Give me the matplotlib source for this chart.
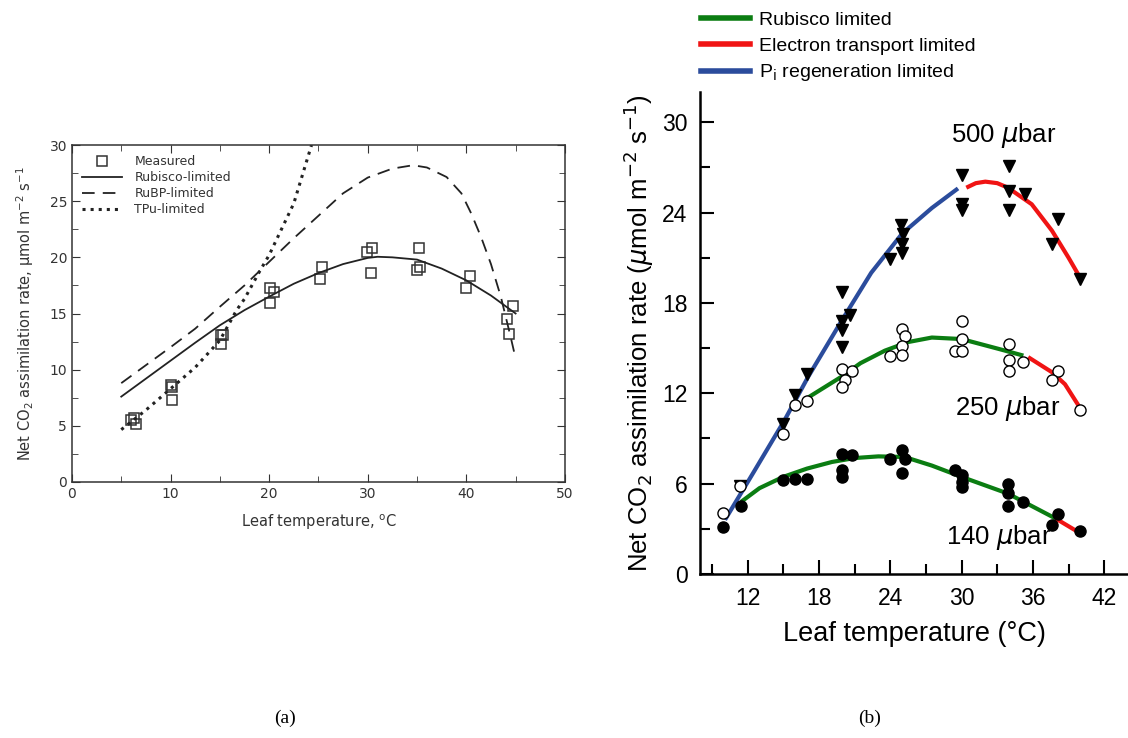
import matplotlib
matplotlib.use("Agg")
import matplotlib.pyplot as plt
from matplotlib.lines import Line2D
from matplotlib.ticker import MultipleLocator

# ---- panel (a) data ----
meas_t = [5.95, 6.26, 6.46, 10.0, 10.1, 10.15, 15.1, 15.3, 15.15, 20.06, 20.47, 20.1,
          25.4, 25.2, 29.9, 30.45, 30.3, 35.2, 35.0, 35.3, 40.0, 40.4, 44.1, 44.35, 44.75]
meas_a = [5.55, 5.73, 5.13, 8.66, 8.46, 7.27, 13.06, 13.1, 12.3, 17.3, 16.9, 15.9,
          19.1, 18.1, 20.5, 20.8, 18.6, 20.8, 18.9, 19.1, 17.3, 18.3, 14.5, 13.15, 15.7]

rub_t = [5, 7.5, 10, 12.5, 15, 17.5, 20, 22.5, 25, 27.5, 30, 31, 32.5, 35, 37.5, 40, 42.5, 45]
rub_a = [7.6, 9.2, 10.8, 12.4, 13.95, 15.3, 16.5, 17.65, 18.6, 19.4, 19.95, 20.05, 20.0,
         19.8, 19.0, 17.95, 16.6, 15.0]

rubp_t = [5, 7.5, 10, 12.5, 15, 17.5, 20, 22.5, 25, 27.5, 30, 32.5, 34.6, 36, 38, 39.5,
          40.5, 41.5, 42.5, 43.5, 44.5, 45]
rubp_a = [8.8, 10.4, 12.0, 13.65, 15.6, 17.5, 19.6, 21.7, 23.7, 25.7, 27.1, 27.9, 28.2,
          28.0, 27.15, 25.7, 23.9, 21.8, 19.4, 16.5, 12.9, 11.0]

tpu_t = [5, 7.5, 10, 12.5, 15, 16.7, 17.5, 19, 20, 22.5, 24.3]
tpu_a = [4.66, 6.4, 8.3, 10.2, 12.6, 15.3, 16.3, 18.7, 20.2, 24.8, 30.0]

# ---- panel (b) data ----
t500 = [11.36, 15.0, 16.0, 17.0, 19.9, 20.6, 19.9, 19.9, 19.9, 24.0, 24.9, 25.1, 25.0, 25.0,
        30.0, 30.0, 30.0, 34.0, 34.0, 34.0, 35.3, 38.1, 37.6, 40.0]
a500 = [5.83, 9.98, 11.9, 13.25, 18.7, 17.2, 16.8, 16.2, 15.1, 20.9, 23.2, 22.6, 21.9, 21.3,
        26.5, 24.55, 24.2, 27.1, 25.4, 24.2, 25.2, 23.55, 21.9, 19.6]

t250 = [9.96, 11.36, 15.0, 16.0, 17.0, 19.97, 20.8, 20.2, 19.97, 24.0, 24.95, 25.2, 24.95,
        24.95, 30.0, 30.0, 29.45, 30.0, 34.0, 34.0, 34.0, 35.2, 38.1, 37.6, 40.0]
a250 = [4.06, 5.83, 9.3, 11.2, 11.5, 13.6, 13.5, 12.9, 12.4, 14.5, 16.27, 15.83, 15.17,
        14.57, 16.77, 15.6, 14.83, 14.83, 15.28, 14.2, 13.5, 14.06, 13.5, 12.85, 10.86]

t140 = [9.96, 11.45, 15.0, 16.0, 17.0, 19.97, 20.75, 19.97, 19.97, 24.0, 25.0, 25.2, 25.0,
        29.45, 30.0, 30.0, 30.0, 33.9, 33.9, 33.9, 35.2, 38.1, 37.6, 40.0]
a140 = [3.13, 4.5, 6.23, 6.34, 6.34, 7.99, 7.88, 6.9, 6.45, 7.66, 8.21, 7.66, 6.71,
        6.89, 6.6, 6.11, 5.8, 6.0, 5.35, 4.5, 4.79, 3.97, 3.24, 2.87]

blue500_t = [10.1, 12.5, 15.1, 17.1, 19.9, 22.4, 25.0, 27.5, 29.7]
blue500_a = [3.6, 6.75, 10.2, 13.1, 16.8, 20.0, 22.6, 24.3, 25.6]
red500_t = [30.4, 31.2, 32.0, 33.0, 33.9, 35.9, 37.6, 39.0, 40.1]
red500_a = [25.65, 25.95, 26.05, 25.95, 25.65, 24.55, 22.8, 21.0, 19.5]

green250_t = [17.05, 19.9, 21.5, 23.55, 25.5, 27.5, 30.0, 33.1, 35.2]
green250_a = [11.7, 13.1, 14.0, 14.83, 15.4, 15.7, 15.6, 14.95, 14.5]
red250_t = [35.6, 37.6, 38.7, 40.1]
red250_a = [14.4, 13.4, 12.6, 10.86]

green140_t = [11.45, 13.0, 15.0, 17.0, 19.1, 21.0, 23.0, 25.2, 27.5, 30.0, 33.9, 37.9]
green140_a = [4.79, 5.7, 6.45, 7.0, 7.44, 7.7, 7.81, 7.77, 7.2, 6.45, 5.34, 3.69]
red140_t = [37.9, 40.1]
red140_a = [3.69, 2.65]

GREEN = '#0b7d12'
RED = '#f01414'
BLUE = '#2b4c9c'

fig = plt.figure(figsize=(11.28, 7.38), dpi=100)

# ================= panel (a) =================
ink = '#333333'
axa = fig.add_axes([0.0638, 0.3469, 0.437, 0.4566])
axa.plot(meas_t, meas_a, 's', ms=7, mfc='none', mec=ink, mew=1.1, label='Measured')
axa.plot(rub_t, rub_a, '-', color='#222222', lw=1.3, label='Rubisco-limited')
axa.plot(rubp_t, rubp_a, '--', color='#222222', lw=1.3, dashes=(7, 4.5), label='RuBP-limited')
axa.plot(tpu_t, tpu_a, ':', color='#222222', lw=2.2, label='TPu-limited')
axa.set_xlim(0, 50)
axa.set_ylim(0, 30)
axa.xaxis.set_major_locator(MultipleLocator(10))
axa.xaxis.set_minor_locator(MultipleLocator(5))
axa.yaxis.set_major_locator(MultipleLocator(5))
axa.yaxis.set_minor_locator(MultipleLocator(2.5))
axa.tick_params(which='both', direction='in', top=True, right=True, colors=ink,
                labelsize=10)
axa.tick_params(which='major', length=6)
axa.tick_params(which='minor', length=4)
for s in axa.spines.values():
    s.set_color(ink)
    s.set_linewidth(1.1)
axa.set_xlabel('Leaf temperature, $^{\\rm o}$C', fontsize=10.5, color=ink, labelpad=8)
axa.set_ylabel('Net CO$_2$ assimilation rate, \u00b5mol m$^{-2}$ s$^{-1}$', fontsize=10.5,
               color=ink, labelpad=10)
leg = axa.legend(loc='upper left', frameon=False, fontsize=9, handlelength=3.2,
                 labelspacing=0.25, borderaxespad=0.4, handletextpad=1.0)
for t in leg.get_texts():
    t.set_color(ink)

# ================= panel (b) =================
axb = fig.add_axes([0.6206, 0.2222, 0.3794, 0.6531])
sans = ['Liberation Sans', 'DejaVu Sans']
for xs, ys, c in [(blue500_t, blue500_a, BLUE), (red500_t, red500_a, RED),
                  (green250_t, green250_a, GREEN), (red250_t, red250_a, RED),
                  (green140_t, green140_a, GREEN), (red140_t, red140_a, RED)]:
    axb.plot(xs, ys, '-', color=c, lw=3, solid_capstyle='butt', solid_joinstyle='round',
             zorder=2)
axb.plot(t500, a500, 'v', ms=8.5, color='black', zorder=3)
axb.plot(t250, a250, 'o', ms=8, mfc='white', mec='black', mew=1.0, zorder=3)
axb.plot(t140, a140, 'o', ms=8, color='black', zorder=3)

axb.set_xlim(8, 44)
axb.set_ylim(0, 32)
axb.xaxis.set_minor_locator(MultipleLocator(3))
axb.set_xticks([12, 18, 24, 30, 36, 42])
axb.yaxis.set_major_locator(MultipleLocator(6))
axb.yaxis.set_minor_locator(MultipleLocator(3))
axb.spines['top'].set_visible(False)
axb.spines['right'].set_visible(False)
for s in ('left', 'bottom'):
    axb.spines[s].set_linewidth(1.8)
axb.tick_params(which='both', direction='in', width=1.5, labelsize=16.5, pad=9)
axb.tick_params(which='major', length=10)
axb.tick_params(which='minor', length=7)
for lab in axb.get_xticklabels() + axb.get_yticklabels():
    lab.set_family(sans)
axb.set_xlabel('Leaf temperature (\u00b0C)', fontsize=19.5, family=sans, labelpad=8)
axb.set_ylabel('Net CO$_2$ assimilation rate ($\\mu$mol m$^{-2}$ s$^{-1}$)', fontsize=18.5,
               family=sans, labelpad=4)

axb.text(33.5, 29.1, '500 $\\mu$bar', fontsize=18.5, family=sans, ha='center', va='center')
axb.text(33.9, 11.0, '250 $\\mu$bar', fontsize=18.5, family=sans, ha='center', va='center')
axb.text(33.1, 2.45, '140 $\\mu$bar', fontsize=18.5, family=sans, ha='center', va='center')

handles = [Line2D([], [], color=GREEN, lw=4),
           Line2D([], [], color=RED, lw=4),
           Line2D([], [], color=BLUE, lw=4)]
labels = ['Rubisco limited', 'Electron transport limited', 'P$_{\\rm i}$ regeneration limited']
fig.legend(handles, labels, loc='upper left', bbox_to_anchor=(0.606, 1.008), frameon=False,
           prop={'family': sans, 'size': 14}, handlelength=2.5, labelspacing=0.4,
           handletextpad=0.5)

# panel captions
fig.text(285 / 1128, 1 - 718 / 738, '(a)', fontsize=14, family=['Liberation Serif', 'DejaVu Serif'],
         ha='center', va='center')
fig.text(870 / 1128, 1 - 718 / 738, '(b)', fontsize=14, family=['Liberation Serif', 'DejaVu Serif'],
         ha='center', va='center')

fig.savefig('out.png', dpi=100)
